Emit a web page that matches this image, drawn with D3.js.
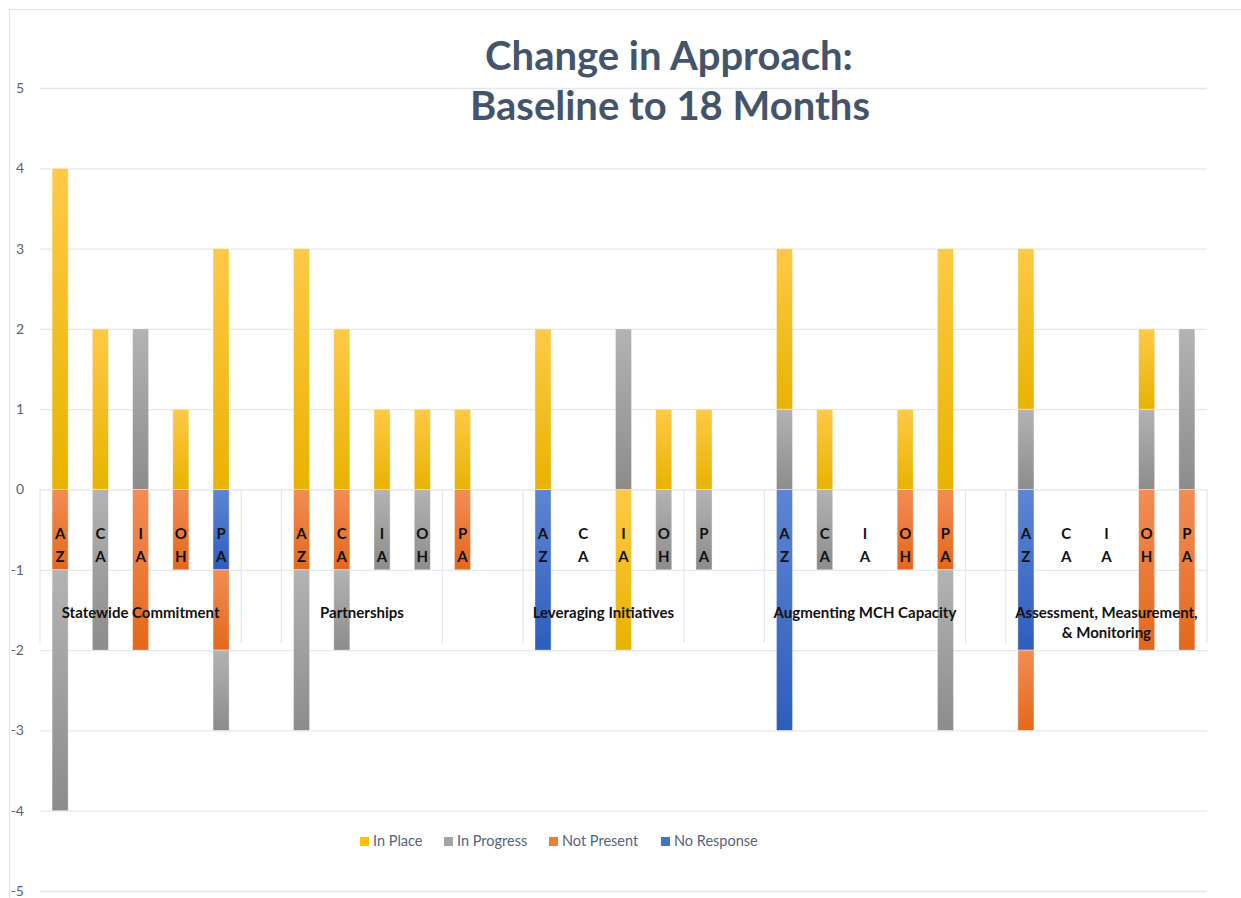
<!DOCTYPE html>
<html>
<head>
<meta charset="utf-8">
<script src="https://cdn.jsdelivr.net/npm/d3@7"></script>
<style>
  body { margin: 0; background: #fff; }
  svg { display: block; font-family: Lato, "Open Sans", sans-serif; }
</style>
</head>
<body>
<script>
// categories: state codes, "" marks the empty spacer columns
var states = ["AZ","CA","IA","OH","PA","",
              "AZ","CA","IA","OH","PA","",
              "AZ","CA","IA","OH","PA","",
              "AZ","CA","IA","OH","PA","",
              "AZ","CA","IA","OH","PA"];

// outer axis level: names and how many columns each spans
var groupNames = ["Statewide Commitment", "", "Partnerships", "", "Leveraging Initiatives", "",
                  "Augmenting MCH Capacity", "", "Assessment, Measurement,|& Monitoring"];
var groupSizes = [5, 1, 4, 2, 4, 2, 5, 1, 5];

// 18 months (drawn above zero)
var m18InPlace    = [4,2,0,1,3, 0, 3,2,1,1,1, 0, 2,0,0,1,1, 0, 2,1,0,1,3, 0, 2,0,0,1,0];
var m18InProgress = [0,0,2,0,0, 0, 0,0,0,0,0, 0, 0,0,2,0,0, 0, 1,0,0,0,0, 0, 1,0,0,1,2];

// baseline (drawn below zero)
var baseInPlace    = [0,0,0,0,0, 0, 0,0,0,0,0, 0, 0,0,2,0,0, 0, 0,0,0,0,0, 0, 0,0,0,0,0];
var baseInProgress = [3,2,0,0,1, 0, 2,1,1,1,0, 0, 0,0,0,1,1, 0, 0,1,0,0,2, 0, 0,0,0,0,0];
var baseNotPresent = [1,0,2,1,1, 0, 1,1,0,0,1, 0, 0,0,0,0,0, 0, 0,0,0,1,1, 0, 1,0,0,2,2];
var baseNoResponse = [0,0,0,0,1, 0, 0,0,0,0,0, 0, 2,0,0,0,0, 0, 3,0,0,0,0, 0, 2,0,0,0,0];

var seriesNames = ["In Place", "In Progress", "Not Present", "No Response"];
var yTicks = [-5,-4,-3,-2,-1,0,1,2,3,4,5];

// colours, light top -> dark bottom like the Excel gradient fill
var fills = {
    "In Place":    ["#ffc947", "#e8b300"],
    "In Progress": ["#b3b3b3", "#8c8c8c"],
    "Not Present": ["#f28d55", "#e4681b"],
    "No Response": ["#5e85d3", "#2d5dbd"]
};
var legendColor = {"In Place": "#ffc000", "In Progress": "#a5a5a5", "Not Present": "#ed7d31", "No Response": "#4472c4"};

var W = 1241, H = 898;
var plotLeft = 40, plotRight = 1207, plotTop = 88, plotBottom = 891;

var svg = d3.select("body").append("svg")
    .attr("width", W)
    .attr("height", H);

// chart frame
svg.append("rect")
    .attr("x", 9.5).attr("y", 9.5)
    .attr("width", W + 20).attr("height", H + 20)
    .attr("fill", "#fff")
    .attr("stroke", "#dde1e8");

var defs = svg.append("defs");
seriesNames.forEach(function (s, i) {
    var g = defs.append("linearGradient")
        .attr("id", "grad" + i)
        .attr("x1", 0).attr("y1", 0).attr("x2", 0).attr("y2", 1);
    g.append("stop").attr("offset", "0%").attr("stop-color", fills[s][0]);
    g.append("stop").attr("offset", "100%").attr("stop-color", fills[s][1]);
});

var x = d3.scaleBand()
    .domain(d3.range(states.length))
    .range([plotLeft, plotRight])
    .paddingInner(0.6)
    .paddingOuter(0.3);

var y = d3.scaleLinear()
    .domain([-5, 5])
    .range([plotBottom, plotTop]);

// gridlines + value axis (plain hyphen for negatives, as in Excel)
var yAxis = svg.append("g")
    .attr("transform", "translate(" + plotLeft + ",0)")
    .call(d3.axisLeft(y).tickValues(yTicks).tickSize(-(plotRight - plotLeft)).tickPadding(16)
        .tickFormat(function (d) { return String(d); }));
yAxis.select(".domain").remove();
yAxis.selectAll(".tick line").attr("stroke", "#e3e7ee").attr("stroke-width", 1.3);
yAxis.selectAll(".tick text")
    .attr("fill", "#56637a")
    .style("font-size", "14px")
    .style("font-family", "Lato, sans-serif");

// dividers of the category axis (between outer groups)
var step = x.step();
var bounds = [0];
groupSizes.forEach(function (n, i) { bounds.push(bounds[i] + n); });
svg.append("g").selectAll("line")
    .data(bounds)
    .join("line")
    .attr("x1", function (d) { return plotLeft + d * step; })
    .attr("x2", function (d) { return plotLeft + d * step; })
    .attr("y1", y(0))
    .attr("y2", 643)
    .attr("stroke", "#e3e7ee")
    .attr("stroke-width", 1.3);

// stacked data
var keys = ["bNoResponse", "bNotPresent", "bInProgress", "bInPlace", "mInProgress", "mInPlace"];
var keySeries = {
    bNoResponse: "No Response", bNotPresent: "Not Present", bInProgress: "In Progress",
    bInPlace: "In Place", mInProgress: "In Progress", mInPlace: "In Place"
};
var rows = states.map(function (s, i) {
    return {
        idx: i,
        bNoResponse: -baseNoResponse[i],
        bNotPresent: -baseNotPresent[i],
        bInProgress: -baseInProgress[i],
        bInPlace: -baseInPlace[i],
        mInProgress: m18InProgress[i],
        mInPlace: m18InPlace[i]
    };
});

var stacked = d3.stack()
    .keys(keys)
    .offset(d3.stackOffsetDiverging)(rows);

svg.append("g").selectAll("g")
    .data(stacked)
    .join("g")
    .attr("fill", function (d) { return "url(#grad" + seriesNames.indexOf(keySeries[d.key]) + ")"; })
    .selectAll("rect")
    .data(function (d) { return d.filter(function (v) { return v[1] - v[0] !== 0; }); })
    .join("rect")
    .attr("x", function (d) { return x(d.data.idx); })
    .attr("width", x.bandwidth())
    .attr("y", function (d) { return y(d[1]); })
    .attr("height", function (d) { return y(d[0]) - y(d[1]); })
    .attr("stroke", "#fff")
    .attr("stroke-opacity", 0.5)
    .attr("stroke-width", 0.8);

// inner category labels: state code written letter over letter
var catLabels = svg.append("g")
    .style("font-size", "15px")
    .style("font-weight", "bold")
    .attr("fill", "#111")
    .attr("text-anchor", "middle");
states.forEach(function (s, i) {
    s.split("").forEach(function (ch, j) {
        catLabels.append("text")
            .attr("x", x(i) + x.bandwidth() / 2)
            .attr("y", 539 + j * 23)
            .text(ch);
    });
});

// outer category labels
var groupLabels = svg.append("g")
    .style("font-size", "15px")
    .style("font-weight", "bold")
    .attr("fill", "#111")
    .attr("text-anchor", "middle");
groupNames.forEach(function (name, i) {
    if (!name) return;
    var cx = plotLeft + (bounds[i] + groupSizes[i] / 2) * step;
    var lines = name.split("|");
    lines.forEach(function (ln, j) {
        groupLabels.append("text")
            .attr("x", cx)
            .attr("y", 618 + j * 20)
            .text(ln);
    });
});

// title
var title = svg.append("g")
    .attr("fill", "#44546a")
    .attr("text-anchor", "middle")
    .style("font-size", "40px")
    .style("font-weight", "bold");
title.append("text").attr("x", 669).attr("y", 70).text("Change in Approach:");
title.append("text").attr("x", 670).attr("y", 120).text("Baseline to 18 Months");

// legend
var legendX = [360, 444, 549, 661];
var legend = svg.append("g").selectAll("g")
    .data(seriesNames)
    .join("g")
    .attr("transform", function (d, i) { return "translate(" + legendX[i] + ",837)"; });
legend.append("rect")
    .attr("width", 9).attr("height", 9)
    .attr("fill", function (d) { return legendColor[d]; });
legend.append("text")
    .attr("x", 13).attr("y", 9)
    .attr("fill", "#56637a")
    .style("font-size", "14.5px")
    .text(function (d) { return d; });
</script>
</body>
</html>
